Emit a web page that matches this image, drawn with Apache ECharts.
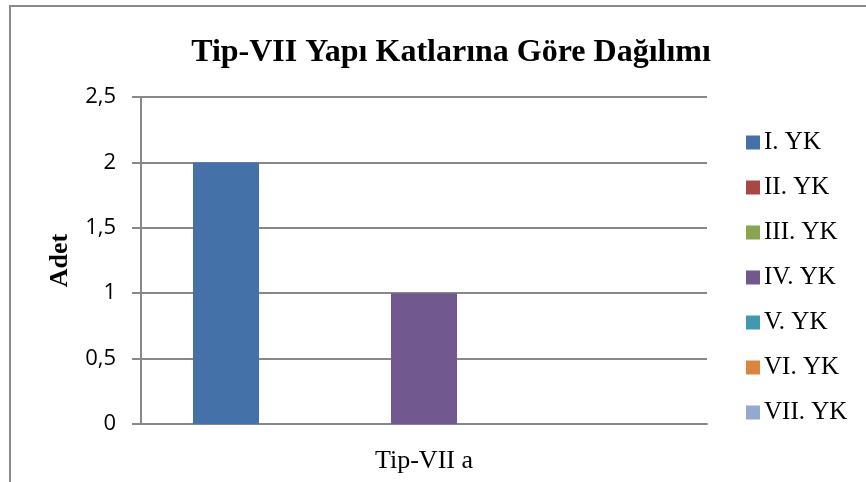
<!DOCTYPE html>
<html>
<head>
<meta charset="utf-8">
<script src="https://cdn.jsdelivr.net/npm/echarts@6/dist/echarts.min.js"></script>
<style>
  html, body { margin: 0; padding: 0; background: #fff; }
  #main { width: 866px; height: 482px; }
</style>
</head>
<body>
<div id="main"></div>
<script>
// kategori ve seriler
var categories = ['Tip-VII a']
var seriesNames = ['I. YK', 'II. YK', 'III. YK', 'IV. YK', 'V. YK', 'VI. YK', 'VII. YK']
var seriesValues = [[2], [0], [0], [1], [0], [0], [0]]
var seriesColors = ['#4472a8', '#aa4643', '#89a54e', '#71588f', '#4198af', '#db843d', '#93a9cf']
var yTicks = { min: 0, max: 2.5, interval: 0.5 }

var myChart = echarts.init(document.getElementById('main'))

var series = seriesNames.map(function (name, i) {
    return {
        name: name,
        type: 'bar',
        data: seriesValues[i],
        barWidth: 66,
        barGap: '0%',
        itemStyle: { color: seriesColors[i] }
    }
})

var option = {
    animation: false,
    backgroundColor: '#fff',
    title: {
        text: 'Tip-VII Yapı Katlarına Göre Dağılımı',
        left: 446,
        top: 32,
        textAlign: 'center',
        textStyle: {
            fontFamily: 'Liberation Serif',
            fontWeight: 'bold',
            fontSize: 32,
            color: '#000'
        }
    },
    legend: {
        orient: 'vertical',
        left: 746,
        top: 130,
        padding: 0,
        itemWidth: 14,
        itemHeight: 14,
        itemGap: 20,
        icon: 'rect',
        textStyle: {
            fontFamily: 'Liberation Serif',
            fontSize: 25,
            lineHeight: 25,
            color: '#000',
            padding: [0, 0, 0, -1]
        },
        data: seriesNames
    },
    grid: {
        left: 141,
        right: 159,
        top: 97,
        bottom: 58,
        containLabel: false
    },
    xAxis: {
        type: 'category',
        data: categories,
        axisLine: { lineStyle: { color: '#888', width: 2 } },
        axisTick: { show: false },
        axisLabel: {
            margin: 24,
            fontFamily: 'Liberation Serif',
            fontSize: 26,
            color: '#000'
        }
    },
    yAxis: {
        type: 'value',
        min: yTicks.min,
        max: yTicks.max,
        interval: yTicks.interval,
        name: 'Adet',
        nameLocation: 'middle',
        nameGap: 68,
        nameTextStyle: {
            fontFamily: 'Liberation Serif',
            fontWeight: 'bold',
            fontSize: 26,
            color: '#000'
        },
        axisLine: { show: true, lineStyle: { color: '#888', width: 2 } },
        axisTick: { show: true, length: 9, lineStyle: { color: '#888', width: 2 } },
        splitLine: { lineStyle: { color: '#888', width: 2 } },
        axisLabel: {
            margin: 25,
            fontFamily: 'Open Sans',
            fontSize: 22,
            color: '#000',
            formatter: function (v) { return String(v).replace('.', ',') }
        }
    },
    graphic: [{
        type: 'polyline',
        shape: { points: [[10, 482], [10, 6], [866, 6]] },
        style: { stroke: '#8c8c8c', lineWidth: 2, fill: null }
    }],
    series: series
}

myChart.setOption(option)
</script>
</body>
</html>
